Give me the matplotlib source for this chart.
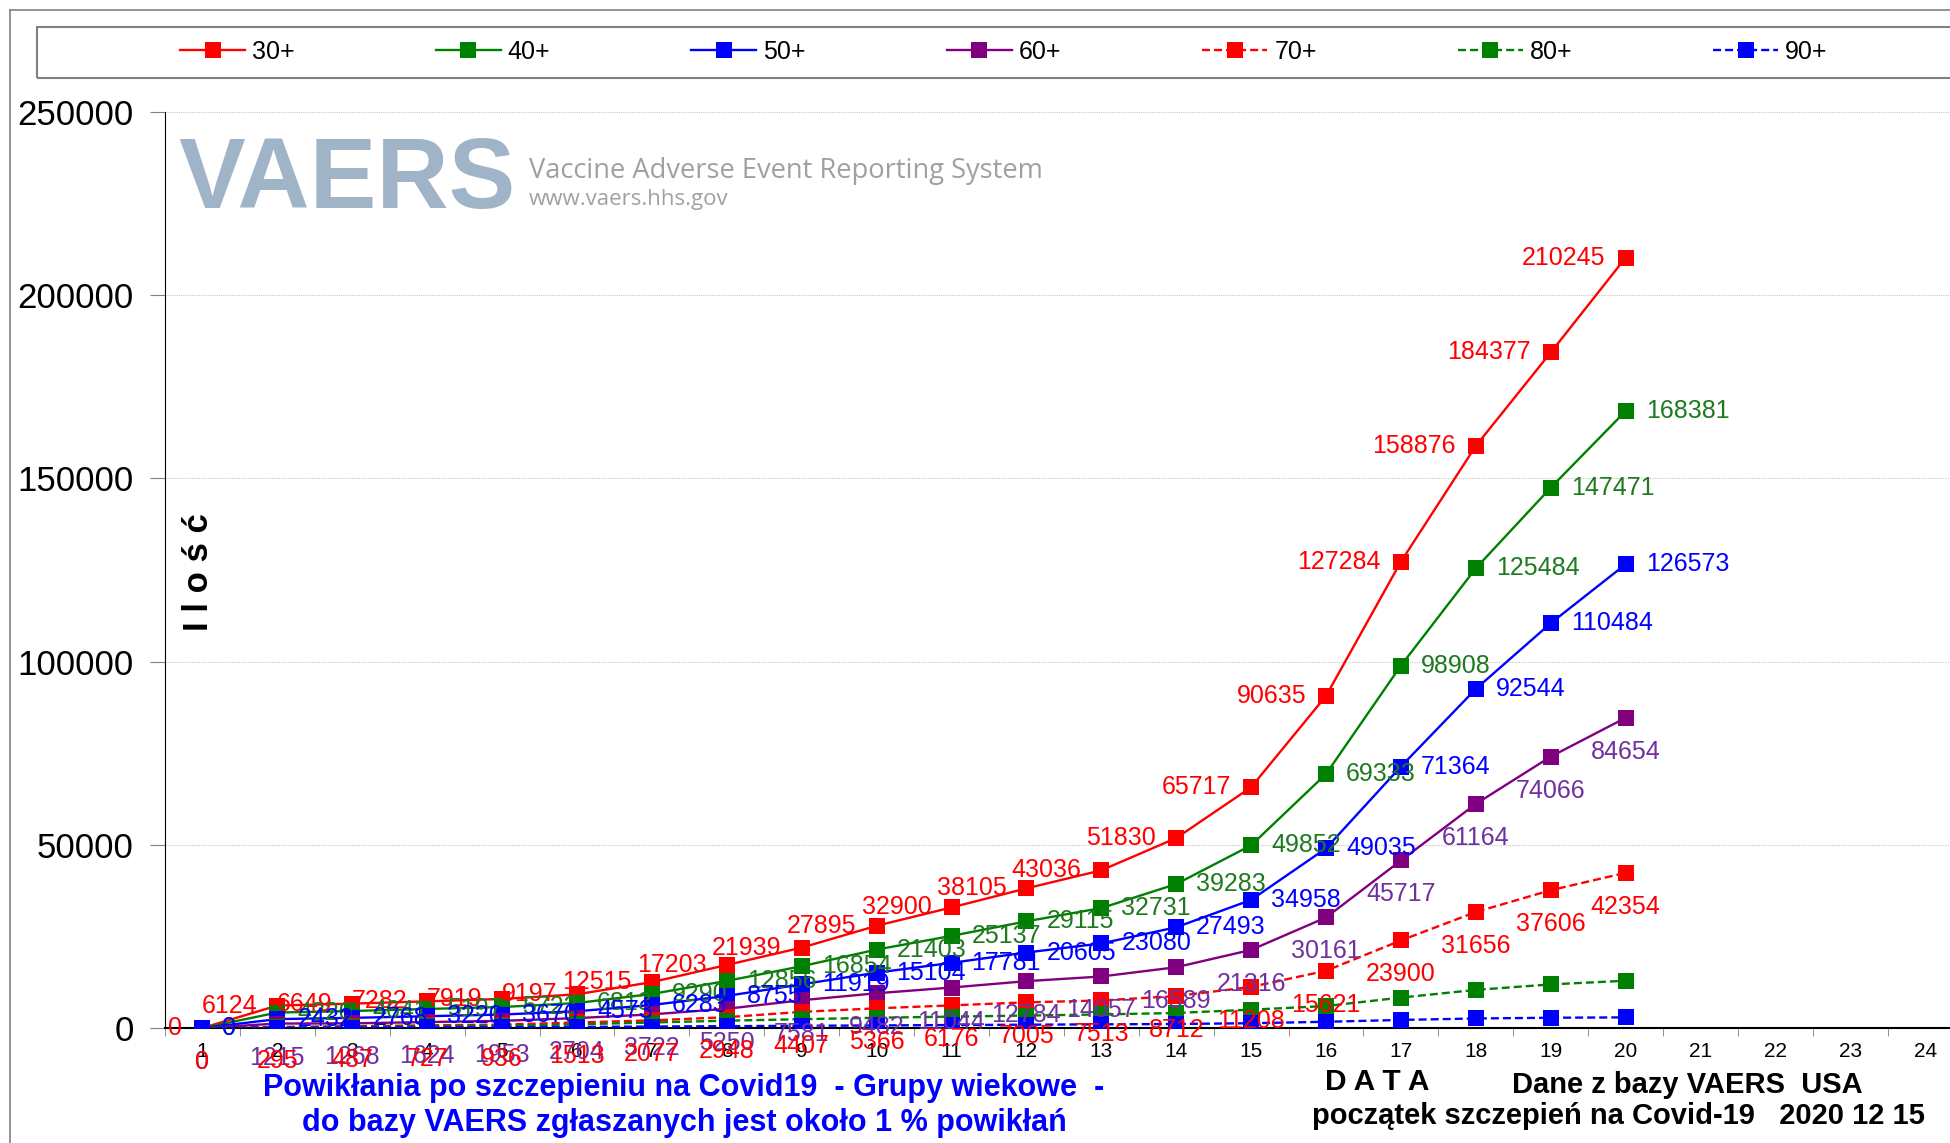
import matplotlib
matplotlib.use("Agg")
import matplotlib.pyplot as plt
from matplotlib.lines import Line2D
from matplotlib.patches import Rectangle

# data (VAERS, cumulative reports per age group)
days = list(range(1, 21))
x_ticks = list(range(1, 25))

age_30 = [0, 6124, 6649, 7282, 7919, 9197, 12515, 17203, 21939, 27895,
          32900, 38105, 43036, 51830, 65717, 90635, 127284, 158876, 184377, 210245]
age_40 = [0, 4220, 4641, 5197, 5723, 6813, 9290, 12856, 16854, 21403,
          25137, 29115, 32731, 39283, 49852, 69333, 98908, 125484, 147471, 168381]
age_50 = [0, 2432, 2768, 3220, 3670, 4573, 6283, 8755, 11919, 15104,
          17781, 20605, 23080, 27493, 34958, 49035, 71364, 92544, 110484, 126573]
age_60 = [0, 1215, 1268, 1624, 1953, 2704, 3722, 5250, 7581, 9482,
          11044, 12784, 14057, 16589, 21316, 30161, 45717, 61164, 74066, 84654]
age_70 = [0, 295, 487, 727, 936, 1513, 2077, 2948, 4407, 5366,
          6176, 7005, 7513, 8712, 11208, 15621, 23900, 31656, 37606, 42354]
age_80 = [0, 150, 300, 450, 650, 1000, 1500, 2000, 2400, 2800,
          3100, 3400, 3700, 4100, 5000, 6000, 8300, 10400, 11900, 12900]
age_90 = [0, 50, 100, 150, 200, 300, 400, 500, 600, 700,
          800, 900, 1000, 1100, 1300, 1700, 2200, 2600, 2800, 2900]

series_names = ["30+", "40+", "50+", "60+", "70+", "80+", "90+"]

# name, values, line colour, line style, label colour, label placement
series = [
    ("30+", age_30, "#ff0000", "-", "#ff0000", "left"),
    ("40+", age_40, "#008000", "-", "#1e7a1e", "right"),
    ("50+", age_50, "#0000ff", "-", "#0000ff", "right"),
    ("60+", age_60, "#800080", "-", "#7030a0", "below"),
    ("70+", age_70, "#ff0000", "--", "#ff0000", "below"),
    ("80+", age_80, "#008000", "--", None, None),
    ("90+", age_90, "#0000ff", "--", None, None),
]

W, H = 1950, 1143
fig = plt.figure(figsize=(W / 100, H / 100), dpi=100)
ax = fig.add_axes([165 / W, 115 / H, 1 - 165 / W, 916 / H])

handles = []
for name, values, color, style, _, _ in series:
    line, = ax.plot(days, values, color=color, linestyle=style, linewidth=1.7,
                    marker="s", markersize=11, markeredgewidth=0, zorder=3)
    if style == "--":
        line.set_dashes((3.4, 1.7))
    handles.append(line)

offsets = {
    "left": ((-20, 0), "right", "center"),
    "right": ((20, 0), "left", "center"),
    "below": ((0, -34), "center", "center"),
}
for name, values, color, style, lcolor, place in series:
    if place is None:
        continue
    off, ha, va = offsets[place]
    for x, v in zip(days, values):
        ax.annotate(str(v), (x, v), xytext=off, textcoords="offset pixels",
                    ha=ha, va=va, color=lcolor, fontsize=18,
                    family="Liberation Sans", annotation_clip=False, zorder=5)

ax.set_xlim(0.5, 24.33)
ax.set_ylim(0, 250000)
ax.set_yticks(range(0, 250001, 50000))
ax.set_xticks(x_ticks)
ax.set_xticks([k + 0.5 for k in range(0, 24)], minor=True)
ax.tick_params(axis="y", length=11, color="#808080", labelsize=25, pad=11.5)
ax.tick_params(axis="x", which="major", length=0, labelsize=15, pad=10)
ax.tick_params(axis="x", which="minor", length=6, color="#808080")
for lab in ax.get_xticklabels() + ax.get_yticklabels():
    lab.set_family("Liberation Sans")
ax.yaxis.grid(True, color="#c8c8c8", linestyle=(0, (1, 1)), linewidth=0.8)
ax.set_axisbelow(True)
for side in ["top", "right"]:
    ax.spines[side].set_visible(False)
ax.spines["left"].set_color("black")
ax.spines["bottom"].set_color("black")
ax.spines["bottom"].set_linewidth(1.5)

# outer frame and legend frame
fig.add_artist(Line2D([10 / W, 1], [1 - 10 / H, 1 - 10 / H], color="#808080", lw=1.2))
fig.add_artist(Line2D([10 / W, 10 / W], [0, 1 - 10 / H], color="#808080", lw=1.2))
fig.add_artist(Rectangle((37 / W, 1 - 78 / H), 1, 51 / H, transform=fig.transFigure,
                         fill=False, edgecolor="#808080", lw=1.5))

fig.legend(handles, series_names, loc="center left",
           bbox_to_anchor=(180 / W, 1 - 52 / H), bbox_transform=fig.transFigure,
           ncol=7, frameon=False, handlelength=2.6,
           handletextpad=0.28, columnspacing=5.64, borderpad=0, borderaxespad=0,
           prop={"family": "Liberation Sans", "size": 18})

# VAERS logo text
fig.text(178 / W, 1 - 208 / H, "VAERS", color="#a0b4c8", fontsize=72,
         fontweight="bold", family="Liberation Sans", va="baseline")
fig.text(529 / W, 1 - 178 / H, "Vaccine Adverse Event Reporting System",
         color="#a0a0a0", fontsize=19.6, family="Open Sans", va="baseline")
fig.text(529 / W, 1 - 205 / H, "www.vaers.hhs.gov",
         color="#a0a0a0", fontsize=16, family="Open Sans", va="baseline")

fig.text(199 / W, 1 - 572 / H, "I l o ś ć", rotation=90, fontsize=25,
         fontweight="bold", family="Liberation Sans", ha="center", va="center")

fig.text(684 / W, 1 - 1088 / H,
         "Powikłania po szczepieniu na Covid19  - Grupy wiekowe  -",
         color="#0000ff", fontsize=22, fontweight="bold", family="Liberation Sans",
         ha="center", va="center")
fig.text(684 / W, 1 - 1123 / H,
         "do bazy VAERS zgłaszanych jest około 1 % powikłań",
         color="#0000ff", fontsize=22, fontweight="bold", family="Liberation Sans",
         ha="center", va="center")
fig.text(1377 / W, 1 - 1082 / H, "D A T A", fontsize=21.5, fontweight="bold",
         family="Liberation Sans", ha="center", va="center")
fig.text(1687 / W, 1 - 1085 / H, "Dane z bazy VAERS  USA", fontsize=21,
         fontweight="bold", family="Liberation Sans", ha="center", va="center")
fig.text(1618 / W, 1 - 1116 / H, "początek szczepień na Covid-19   2020 12 15",
         fontsize=21, fontweight="bold", family="Liberation Sans",
         ha="center", va="center")

fig.savefig("out.png", dpi=100)
